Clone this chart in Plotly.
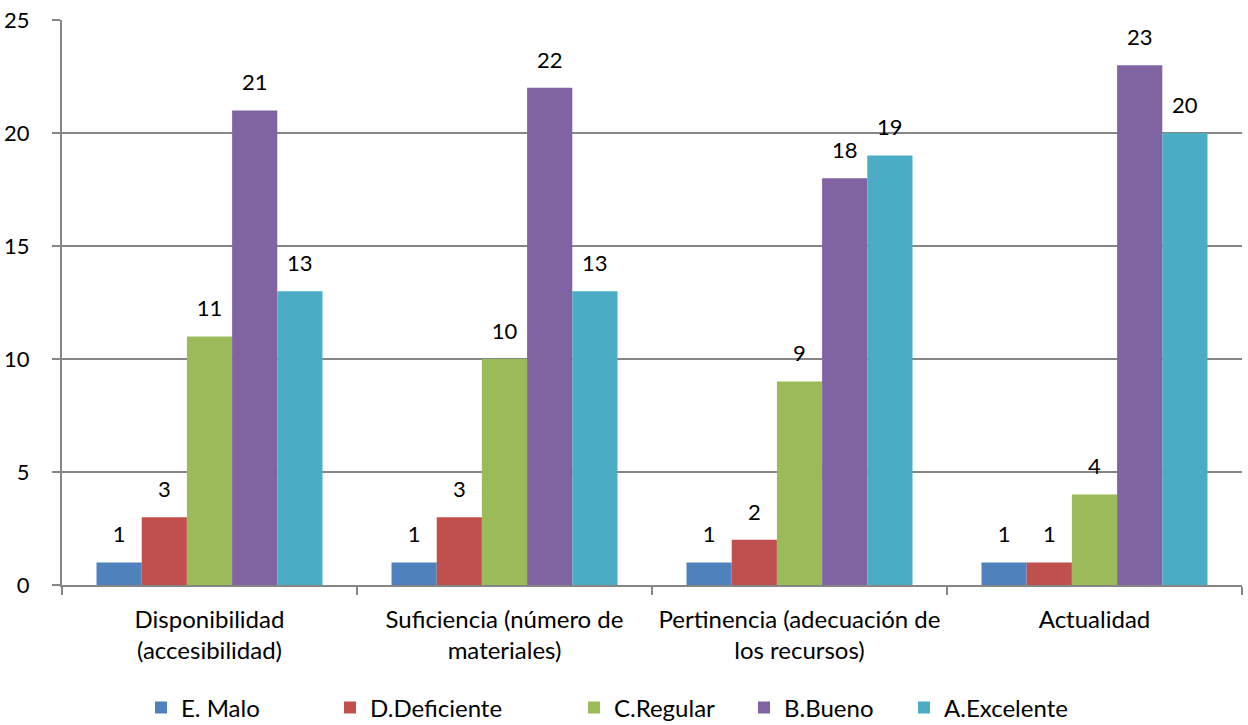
import plotly.graph_objects as go

categories = ["Disponibilidad<br>(accesibilidad)", "Suficiencia (número de<br>materiales)",
              "Pertinencia (adecuación de<br>los recursos)", "Actualidad"]
series_names = ["E. Malo", "D.Deficiente", "C.Regular", "B.Bueno", "A.Excelente"]
malo = [1, 1, 1, 1]
deficiente = [3, 3, 2, 1]
regular = [11, 10, 9, 4]
bueno = [21, 22, 18, 23]
excelente = [13, 13, 19, 20]
series_values = [malo, deficiente, regular, bueno, excelente]
colors = ["#4F81BD", "#C0504D", "#9BBB59", "#8064A2", "#4BACC6"]
y_ticks = [0, 5, 10, 15, 20, 25]

FONT = "Lato"
L, R, T, B = 62, 6, 20, 140
W, H = 1248, 725
pw = W - L - R
ph = H - T - B
GAP = 0.234

legend_px = [157, 346, 590, 760, 920]
legend_keys = ["legend", "legend2", "legend3", "legend4", "legend5"]

fig = go.Figure()
for i, (name, vals, col, lk) in enumerate(zip(series_names, series_values, colors, legend_keys)):
    fig.add_trace(go.Bar(
        x=categories, y=vals, name=name, marker=dict(color=col, line=dict(width=0)),
        legend=lk, offsetgroup=str(i), showlegend=True,
    ))
for i, vals in enumerate(series_values):
    fig.add_trace(go.Scatter(
        x=categories, y=vals, mode="markers+text", text=[str(v) for v in vals],
        textposition="top center", marker=dict(size=22, opacity=0),
        textfont=dict(family=FONT, size=22, color="#000"),
        offsetgroup=str(i), showlegend=False, hoverinfo="skip", cliponaxis=False,
    ))

layout_legends = {}
for px, lk in zip(legend_px, legend_keys):
    layout_legends[lk] = dict(
        x=(px - L - 16) / pw, xanchor="left", y=(T + ph - 708) / ph, yanchor="middle",
        orientation="h", font=dict(family=FONT, size=24, color="#000"),
        bgcolor="rgba(0,0,0,0)", borderwidth=0, itemwidth=30,
    )

fig.update_layout(
    width=W, height=H, margin=dict(l=L, r=R, t=T, b=B, autoexpand=False),
    paper_bgcolor="white", plot_bgcolor="white",
    barmode="group", bargap=GAP, bargroupgap=0,
    scattermode="group", scattergap=GAP,
    font=dict(family=FONT, size=22, color="#000"),
    showlegend=True,
    **layout_legends,
)
fig.update_xaxes(
    showline=True, linecolor="#868686", linewidth=2,
    ticks="outside", tickson="boundaries", ticklen=8, tickwidth=2, tickcolor="#868686",
    showgrid=False, tickfont=dict(family=FONT, size=24, color="#000"),
    ticklabelstandoff=12, automargin=False,
)
fig.update_yaxes(
    range=[0, 25], tickvals=y_ticks, showline=True, linecolor="#868686", linewidth=2,
    ticks="outside", ticklen=8, tickwidth=2, tickcolor="#868686",
    showgrid=True, gridcolor="#868686", gridwidth=1.5, zeroline=False,
    tickfont=dict(family=FONT, size=22, color="#000"), ticklabelstandoff=18,
    automargin=False,
)
fig.write_html("out.html", config={"displayModeBar": False},
               post_script="document.body.style.margin='0';document.body.style.overflow='hidden';")
